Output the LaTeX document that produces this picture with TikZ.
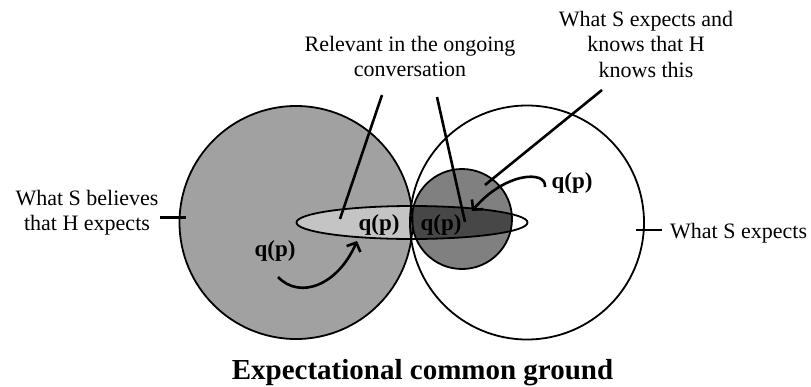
\documentclass[tikz,border=0pt]{standalone}
\usepackage{fontspec}
\setmainfont{Liberation Serif}
\usetikzlibrary{arrows.meta}
\definecolor{cgray}{gray}{0.63}
\definecolor{elight}{gray}{0.77}
\definecolor{cmid}{gray}{0.50}
\definecolor{edark}{gray}{0.28}
\begin{document}
\begin{tikzpicture}[x=1pt,y=-1pt,
  lbl/.style={font=\fontsize{22}{25.5}\selectfont, align=center, inner sep=0pt},
  qp/.style={font=\fontsize{23}{25}\selectfont\bfseries, inner sep=0pt, anchor=base},
  lead/.style={line width=2.6pt},
  outl/.style={line width=1.8pt},
  curvarrow/.style={line width=2.6pt, -{Straight Barb[length=7pt,width=15pt,line width=2.6pt]}}]
\useasboundingbox (0,0) rectangle (811,386);
% geometry
\coordinate (cl) at (296,222.5);
\coordinate (cr) at (527,222.5);
\coordinate (cs) at (462,219);
\coordinate (ce) at (412,222.5);
% fills
\fill[cgray] (cl) circle (116.5pt);
\fill[white] (cr) circle (117pt);
\fill[cmid] (cs) circle (50pt);
\begin{scope}
  \clip (cl) circle (116.5pt);
  \fill[elight] (ce) ellipse [x radius=115.5pt, y radius=16.5pt];
\end{scope}
\begin{scope}
  \clip (cs) circle (50pt);
  \fill[edark] (ce) ellipse [x radius=115.5pt, y radius=16.5pt];
\end{scope}
% outlines
\draw[outl] (ce) ellipse [x radius=115.5pt, y radius=16.5pt];
\draw[outl] (cs) circle (50pt);
\draw[outl] (cl) circle (116.5pt);
\draw[outl] (cr) circle (117pt);
% q(p) labels
\node[qp] (q1) at (379,230) {q(p)};
\node[qp] (q2) at (441,230) {q(p)};
\node[qp] (q3) at (275,256) {q(p)};
\node[qp] (q4) at (572,188) {q(p)};
% text labels
\node[lbl, anchor=north] (rel) at (410,36) {Relevant in the ongoing\\conversation};
\node[lbl, anchor=north] (know) at (646,11) {What S expects and\\knows that H\\knows this};
\node[lbl, anchor=north] (bel) at (87,190) {What S believes\\that H expects};
\node[lbl, anchor=base west] (exp) at (670,238) {What S expects};
\node[font=\fontsize{29}{30}\selectfont\bfseries, inner sep=0pt, anchor=base] (title) at (422.5,379) {Expectational common ground};
% leader lines
\coordinate (r1a) at (382,95);  \coordinate (r1b) at (340,219);
\coordinate (r2a) at (437,97);  \coordinate (r2b) at (465,222);
\coordinate (k1a) at (602,90);  \coordinate (k1b) at (485,185);
\coordinate (t1a) at (160,217.5); \coordinate (t1b) at (186,217.5);
\coordinate (t2a) at (636,230); \coordinate (t2b) at (662,230);
\draw[lead] (r1a) -- (r1b);
\draw[lead] (r2a) -- (r2b);
\draw[lead] (k1a) -- (k1b);
\draw[lead] (t1a) -- (t1b);
\draw[lead] (t2a) -- (t2b);
% curved arrows
\coordinate (a1s) at (278,277); \coordinate (a1e) at (357,241);
\draw[curvarrow] (a1s) .. controls (300,300) and (338,285) .. (a1e);
\coordinate (a2s) at (545,187); \coordinate (a2e) at (472,211);
\draw[curvarrow] (a2s) .. controls (547,170) and (505,172) .. (a2e);
\end{tikzpicture}
\end{document}
